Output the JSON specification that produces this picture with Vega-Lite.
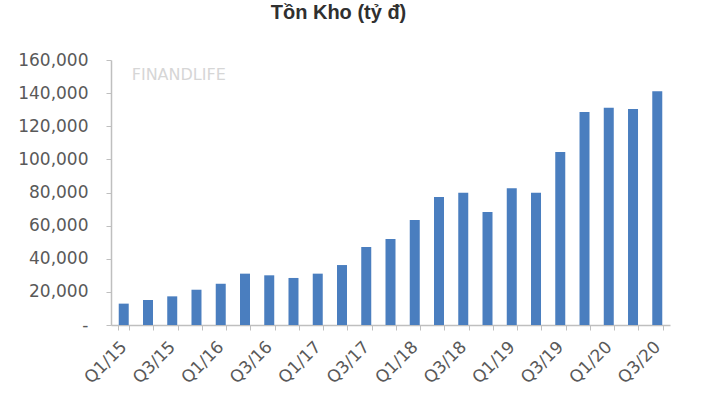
{
  "$schema": "https://vega.github.io/schema/vega-lite/v6.json",
  "width": 559,
  "height": 265,
  "autosize": "none",
  "padding": {"left": 111, "top": 60, "right": 41, "bottom": 75},
  "background": "white",
  "title": {
    "text": "Tồn Kho (tỷ đ)",
    "anchor": "middle",
    "dx": -52,
    "offset": 28,
    "font": "Liberation Sans",
    "fontSize": 20,
    "fontWeight": "bold",
    "color": "#303030"
  },
  "datasets": {
    "inv": [
      {"q": "Q1/15", "v": 12900},
      {"q": "Q2/15", "v": 15100},
      {"q": "Q3/15", "v": 17300},
      {"q": "Q4/15", "v": 21300},
      {"q": "Q1/16", "v": 24900},
      {"q": "Q2/16", "v": 31000},
      {"q": "Q3/16", "v": 30000},
      {"q": "Q4/16", "v": 28400},
      {"q": "Q1/17", "v": 31000},
      {"q": "Q2/17", "v": 36200},
      {"q": "Q3/17", "v": 47100},
      {"q": "Q4/17", "v": 51900},
      {"q": "Q1/18", "v": 63400},
      {"q": "Q2/18", "v": 77300},
      {"q": "Q3/18", "v": 79900},
      {"q": "Q4/18", "v": 68200},
      {"q": "Q1/19", "v": 82500},
      {"q": "Q2/19", "v": 79900},
      {"q": "Q3/19", "v": 104500},
      {"q": "Q4/19", "v": 128600},
      {"q": "Q1/20", "v": 131200},
      {"q": "Q2/20", "v": 130400},
      {"q": "Q3/20", "v": 141100}
    ],
    "mark": [
      {"q": "Q1/15", "v": 151000, "t": "FINANDLIFE"}
    ]
  },
  "encoding": {
    "x": {
      "field": "q",
      "type": "nominal",
      "sort": null,
      "title": null,
      "scale": {"paddingInner": 0.55, "paddingOuter": 0.3},
      "axis": {
        "labelAngle": -45,
        "labelAlign": "right",
        "labelBaseline": "middle",
        "labelExpr": "(slice(datum.label,0,2) == 'Q1' || slice(datum.label,0,2) == 'Q3') ? datum.label : ''",
        "labelFont": "DejaVu Sans",
        "labelFontSize": 17,
        "labelColor": "#595959",
        "labelPadding": 14,
        "tickBand": "extent",
        "tickSize": 5,
        "tickColor": "#bfbfbf",
        "domainColor": "#bfbfbf",
        "domainWidth": 1.5,
        "labelOverlap": false
      }
    },
    "y": {
      "field": "v",
      "type": "quantitative",
      "title": null,
      "scale": {"domain": [0, 160000], "nice": false},
      "axis": {
        "values": [0, 20000, 40000, 60000, 80000, 100000, 120000, 140000, 160000],
        "format": ",.0f",
        "labelExpr": "datum.value == 0 ? '-\u00a0\u00a0\u00a0' : datum.label",
        "labelOverlap": false,
        "grid": false,
        "labelFont": "DejaVu Sans",
        "labelFontSize": 17,
        "labelColor": "#595959",
        "labelPadding": 18,
        "tickSize": 5,
        "tickColor": "#bfbfbf",
        "domainColor": "#bfbfbf",
        "domainWidth": 1.5
      }
    }
  },
  "layer": [
    {
      "data": {"name": "inv"},
      "mark": {"type": "bar", "color": "#4a7ebf", "size": 10}
    },
    {
      "data": {"name": "mark"},
      "mark": {"type": "text", "align": "left", "baseline": "middle", "dx": 8, "font": "DejaVu Sans", "fontSize": 16, "color": "#d6d6d6"},
      "encoding": {
        "text": {"field": "t"}
      }
    }
  ],
  "config": {"view": {"stroke": null}}
}
